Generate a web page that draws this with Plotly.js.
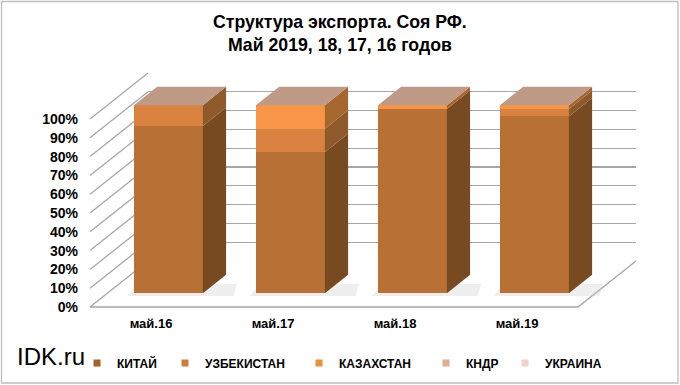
<!DOCTYPE html>
<html><head><meta charset="utf-8">
<script src="https://cdn.plot.ly/plotly-3.0.1.min.js"></script>
<style>html,body{margin:0;padding:0;background:#fff}#chart{width:680px;height:385px}</style>
</head><body><div id="chart"></div>
<script>
// ---- data (percent share) ----
const categories = ['май.16', 'май.17', 'май.18', 'май.19'];
const seriesNames = ['КИТАЙ', 'УЗБЕКИСТАН', 'КАЗАХСТАН', 'КНДР', 'УКРАИНА'];
const china      = [89, 75, 98, 94];
const uzbekistan = [11, 12.5, 0, 4];
const kazakhstan = [0, 12.5, 2, 2];
const kndr       = [0, 0, 0, 0];
const ukraine    = [0, 0, 0, 0];
const yTickVals  = [0, 10, 20, 30, 40, 50, 60, 70, 80, 90, 100];
const yTickText  = ['0%', '10%', '20%', '30%', '40%', '50%', '60%', '70%', '80%', '90%', '100%'];

// ---- styles ----
const frontColors  = ['#B87034', '#D9813E', '#F79646', '#E6B49A', '#F2D5C8'];
const sideColors   = ['#774A22', '#8E5A2B', '#A6672F', '#A88670', '#B09A90'];
const legendColors = ['#A5622B', '#CF7B3A', '#EC9040', '#E3AC92', '#EFD3C6'];
const legendTextX  = [117, 205, 339, 466, 545];
const topColor = '#BF9B87';
const gridColor = '#A6A6A6';
const FONT = 'Liberation Sans, Arial, sans-serif';

const W = 680, H = 385;
const px = v => v / W, py = v => 1 - v / H;
const F = {x0: 90, x1: 578, y0: 307, y1: 119};
const D = {dx: 58, dy: 46};
const nCat = categories.length;
const unitPx = (F.x1 - F.x0) / nCat;
const pctPx = (F.y0 - F.y1) / 100;
const barOff = 0.3, barDepth = 0.4;
const B = {x0: F.x0 + barOff * D.dx, y0: F.y0 - barOff * D.dy};
const xr3 = [-0.5, nCat - 0.5 + 0.3];
const yr3 = [-8, 115];
const B_x1 = B.x0 + (xr3[1] - xr3[0]) * unitPx;
const B_y1 = B.y0 - (yr3[1] - 0) * pctPx;
const B_y0 = B.y0 - (yr3[0] - 0) * pctPx;
const dxU = barDepth * D.dx / unitPx;
const dyU = barDepth * D.dy / pctPx;
const barW = 69 / unitPx;

const series = [china, uzbekistan, kazakhstan, kndr, ukraine];
const xIdx = categories.map((c, i) => i);
const traces = [];
traces.push({type: 'scatter', x: [null], y: [null], xaxis: 'x', yaxis: 'y', showlegend: false, hoverinfo: 'skip'});
traces.push({type: 'scatter', x: [null], y: [null], xaxis: 'x2', yaxis: 'y2', showlegend: false, hoverinfo: 'skip'});
series.forEach((vals, s) => {
  traces.push({type: 'bar', x: xIdx, y: vals, width: barW, xaxis: 'x3', yaxis: 'y3',
    marker: {color: frontColors[s], line: {width: 0}}, showlegend: false, hoverinfo: 'skip', name: seriesNames[s]});
});
const base = categories.map(() => 0);
series.forEach((vals, s) => {
  const xs = [], ys = [];
  vals.forEach((v, i) => {
    const b = base[i], t = base[i] + v;
    if (v > 0) {
      const xr = i + barW / 2;
      xs.push(xr, xr + dxU, xr + dxU, xr, xr, null);
      ys.push(b, b + dyU, t + dyU, t, b, null);
    }
    base[i] = t;
  });
  traces.push({type: 'scatter', x: xs, y: ys, xaxis: 'x3', yaxis: 'y3', mode: 'lines', fill: 'toself',
    fillcolor: sideColors[s], line: {width: 0, color: sideColors[s]}, showlegend: false, hoverinfo: 'skip'});
});
{
  const xs = [], ys = [];
  base.forEach((T, i) => {
    const xl = i - barW / 2, xr = i + barW / 2;
    xs.push(xl, xl + dxU, xr + dxU, xr, xl, null);
    ys.push(T, T + dyU, T + dyU, T, T, null);
  });
  traces.push({type: 'scatter', x: xs, y: ys, xaxis: 'x3', yaxis: 'y3', mode: 'lines', fill: 'toself',
    fillcolor: topColor, line: {width: 0, color: topColor}, showlegend: false, hoverinfo: 'skip'});
}
// legend entries, one legend per entry
const legends = {};
seriesNames.forEach((n, s) => {
  const key = s === 0 ? 'legend' : 'legend' + (s + 1);
  traces.push({type: 'scatter', x: [null], y: [null], xaxis: 'x3', yaxis: 'y3', mode: 'markers', name: n,
    legend: key, marker: {symbol: 'square', size: 7, color: legendColors[s]}, hoverinfo: 'skip'});
  legends[key] = {orientation: 'h', x: px(legendTextX[s] - 40), xanchor: 'left', y: py(363), yanchor: 'middle',
    font: {family: FONT, size: 12, color: '#000', weight: 'bold'}, bgcolor: 'rgba(0,0,0,0)'};
});

const shapes = [];
// soft floor shadows behind bars
xIdx.forEach(i => {
  const xl = i - barW / 2 - 0.05, xr = i + barW / 2 + dxU + 0.06;
  shapes.push({type: 'path', xref: 'x3', yref: 'y3', layer: 'below',
    path: `M${xl},-1.5 L${xr},-1.5 L${xr + 0.03},${dyU * 0.5} L${xl + 0.08},${dyU * 0.5} Z`,
    fillcolor: 'rgba(200,200,200,0.3)', line: {width: 0}});
});
yTickVals.forEach(v => {
  shapes.push({type: 'line', xref: 'paper', yref: 'paper', layer: 'below',
    x0: px(F.x0), y0: py(F.y0 - v * pctPx), x1: px(F.x0 + D.dx), y1: py(F.y0 - D.dy - v * pctPx),
    line: {color: gridColor, width: 1.3}});
});
shapes.push({type: 'path', xref: 'paper', yref: 'paper', layer: 'below',
  path: `M${px(F.x0)},${py(F.y0)} L${px(F.x1)},${py(F.y0)} L${px(F.x1 + D.dx)},${py(F.y0 - D.dy)}`,
  line: {color: gridColor, width: 1.3}});
shapes.push({type: 'rect', xref: 'paper', yref: 'paper', layer: 'above',
  x0: px(1.5), y0: py(383), x1: px(678), y1: py(1.5), line: {color: '#BFBFBF', width: 1.3}});

const layout = Object.assign({
  width: W, height: H,
  margin: {l: 0, r: 0, t: 0, b: 0},
  paper_bgcolor: '#fff', plot_bgcolor: 'rgba(0,0,0,0)',
  font: {family: FONT, color: '#000'},
  barmode: 'stack', bargap: 0,
  xaxis: {domain: [px(F.x0), px(F.x1)], range: [-0.5, nCat - 0.5], anchor: 'y',
    tickvals: xIdx, ticktext: categories, showgrid: false, zeroline: false, showline: false, ticks: '',
    ticklabelstandoff: 7, tickfont: {family: FONT, size: 13, color: '#000', weight: 'bold'}, fixedrange: true},
  yaxis: {domain: [py(F.y0), py(F.y1)], range: [0, 100], anchor: 'x', tickvals: yTickVals, ticktext: yTickText,
    showgrid: false, zeroline: false, showline: false, ticks: '', ticklabelstandoff: 11,
    tickfont: {family: FONT, size: 14, color: '#000', weight: 'bold'}, fixedrange: true},
  xaxis2: {domain: [px(F.x0 + D.dx), px(F.x1 + D.dx)], range: [0, 1], anchor: 'y2', visible: false},
  yaxis2: {domain: [py(F.y0 - D.dy), py(F.y1 - D.dy)], range: [0, 100], anchor: 'x2', tickvals: yTickVals,
    showgrid: true, gridcolor: gridColor, gridwidth: 1.3, zeroline: false, showticklabels: false, ticks: '', showline: false},
  xaxis3: {domain: [px(B.x0), px(B_x1)], range: xr3, anchor: 'y3', visible: false},
  yaxis3: {domain: [py(B_y0), py(B_y1)], range: yr3, anchor: 'x3', visible: false},
  showlegend: true,
  annotations: [
    {text: 'Структура экспорта. Соя РФ.<br>Май 2019, 18, 17, 16 годов', xref: 'paper', yref: 'paper',
      x: 0.5, y: py(10), xanchor: 'center', yanchor: 'top', showarrow: false,
      font: {family: FONT, size: 17.7, color: '#000', weight: 'bold'}},
    {text: 'IDK.ru', xref: 'paper', yref: 'paper', x: px(15), y: py(356), xanchor: 'left', yanchor: 'middle',
      showarrow: false, font: {family: FONT, size: 24, color: '#000'}}],
  shapes: shapes
}, legends);
Plotly.newPlot('chart', traces, layout, {staticPlot: true, displayModeBar: false});
</script></body></html>
